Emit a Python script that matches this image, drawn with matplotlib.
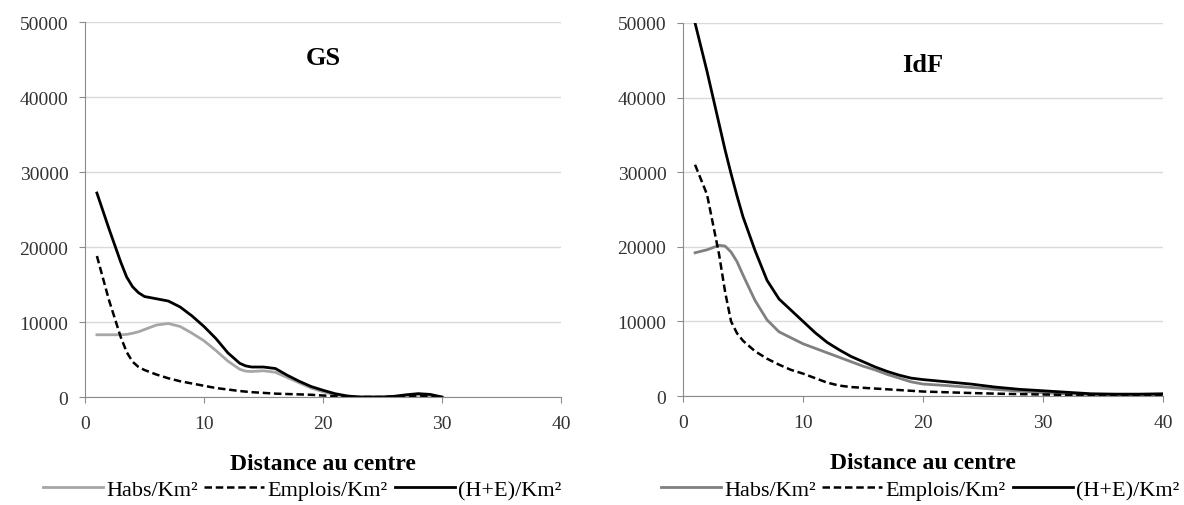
import matplotlib.pyplot as plt

plt.rcParams['font.family'] = ['Liberation Serif', 'DejaVu Serif']

# GS (left panel)
gs_x = [1, 2, 3, 3.5, 4, 4.5, 5, 6, 7, 8, 9, 10, 11, 12, 13, 13.5, 14, 15, 16,
        17, 18, 19, 20, 21, 22, 23, 24, 25, 26, 27, 28, 29, 30]
gs_habs = [8300, 8300, 8300, 8350, 8500, 8700, 9000, 9600, 9800, 9400, 8500, 7500,
           6200, 4800, 3700, 3450, 3400, 3500, 3300, 2600, 1900, 1200, 700,
           300, 100, 0, 0, 0, 50, 150, 250, 150, 0]
gs_empl = [18800, 13000, 8000, 6000, 4700, 4000, 3600, 3000, 2500, 2100, 1800, 1500,
           1200, 1000, 800, 720, 650, 550, 450, 400, 350, 300, 200,
           100, 50, 0, 0, 0, 50, 100, 200, 100, 0]
gs_tot = [27200, 22500, 18000, 16000, 14700, 13900, 13400, 13100, 12800, 12000, 10800, 9400,
          7800, 5900, 4500, 4150, 4000, 4000, 3800, 2900, 2100, 1400, 900,
          450, 150, 0, 0, 0, 100, 300, 450, 350, 0]

# IdF (right panel)
idf_x = [1, 2, 3, 3.5, 4, 4.5, 5, 6, 7, 8, 9, 10, 11, 12, 13, 14, 15, 16, 17, 18, 19, 20,
         22, 24, 26, 28, 30, 32, 34, 36, 38, 40]
idf_habs = [19200, 19600, 20200, 20100, 19300, 18000, 16200, 12800, 10200, 8600, 7800, 7000,
            6400, 5800, 5200, 4600, 4000, 3500, 2900, 2400, 1900, 1600,
            1400, 1150, 900, 650, 450, 300, 200, 150, 100, 100]
idf_empl = [31000, 27000, 19000, 14000, 10000, 8400, 7400, 6000, 5000, 4200, 3500, 3000,
            2400, 1800, 1400, 1200, 1100, 1000, 900, 800, 700, 600,
            500, 400, 320, 250, 200, 150, 100, 80, 60, 50]
idf_tot = [50000, 43500, 36500, 33000, 29800, 26800, 24000, 19500, 15500, 13000, 11500, 10000,
           8500, 7200, 6200, 5300, 4600, 3900, 3300, 2800, 2400, 2200,
           1900, 1600, 1200, 900, 700, 500, 300, 250, 250, 300]

labels = ["Habs/Km²", "Emplois/Km²", "(H+E)/Km²"]

fig = plt.figure(figsize=(11.84, 5.06), dpi=100)
ax1 = fig.add_axes([0.0718, 0.2134, 0.402, 0.7411])
ax2 = fig.add_axes([0.5769, 0.2154, 0.4054, 0.7372])

panels = [(ax1, "GS", gs_x, gs_habs, gs_empl, gs_tot, "#a6a6a6", 0.905, 0.255),
          (ax2, "IdF", idf_x, idf_habs, idf_empl, idf_tot, "#808080", 0.89, 0.777)]

for ax, title, x, habs, empl, tot, hcol, ty, lx in panels:
    ax.plot(x, habs, color=hcol, lw=2, label=labels[0], solid_joinstyle='round')
    ax.plot(x, empl, color='black', lw=1.8, ls=(0, (3, 1.5)), label=labels[1])
    ax.plot(x, tot, color='black', lw=2, label=labels[2], solid_joinstyle='round')
    ax.set_xlim(0, 40)
    ax.set_ylim(0, 50000)
    ax.set_xticks([0, 10, 20, 30, 40])
    ax.set_yticks(range(0, 50001, 10000))
    ax.grid(axis='y', color='#d9d9d9', lw=1)
    ax.set_axisbelow(True)
    for s in ['top', 'right']:
        ax.spines[s].set_visible(False)
    ax.spines['left'].set_color('#8c8c8c')
    ax.spines['bottom'].set_color('#8c8c8c')
    ax.tick_params(axis='both', colors='#8c8c8c', labelcolor='#333333',
                   labelsize=14, length=4)
    ax.tick_params(axis='y', pad=8)
    ax.tick_params(axis='x', pad=9)
    ax.set_xlabel("Distance au centre", fontsize=17, fontweight='bold', labelpad=15)
    ax.text(0.5, ty, title, transform=ax.transAxes, ha='center', va='center',
            fontsize=19, fontweight='bold')
    fig.legend(*ax.get_legend_handles_labels(), loc='center',
               bbox_to_anchor=(lx, 0.03), ncol=3,
               frameon=False, fontsize=16, handlelength=2.7, handletextpad=0.15,
               columnspacing=0.3)

plt.savefig("out.png")
